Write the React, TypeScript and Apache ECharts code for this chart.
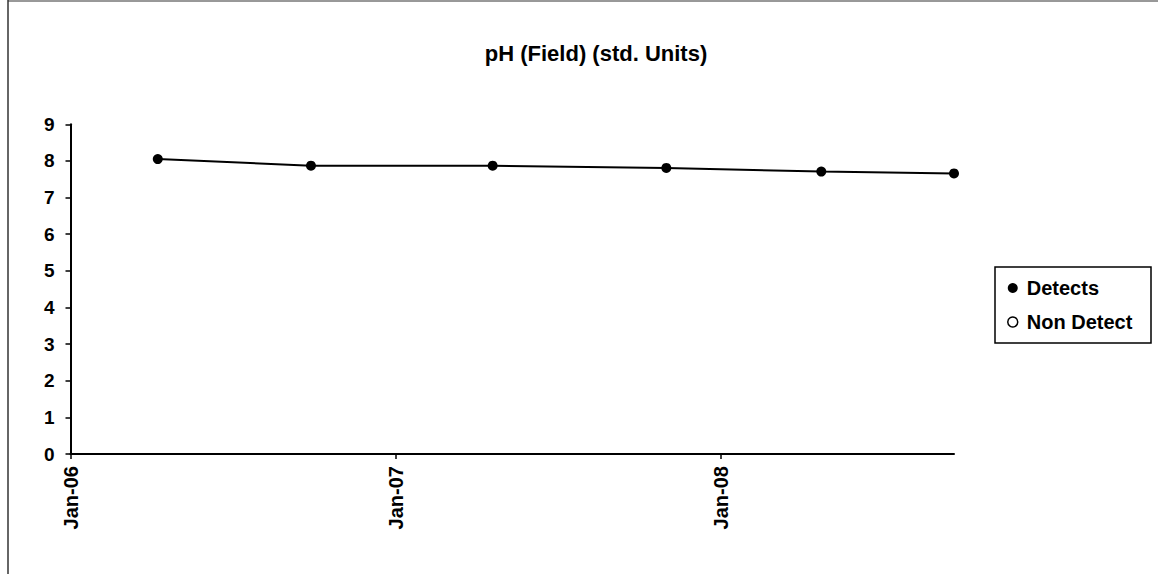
import React, { useEffect, useRef } from "react";
import * as echarts from "echarts";

const sampleDates = ["2006-04-09", "2006-09-28", "2007-04-20", "2007-11-01", "2008-04-23", "2008-09-19"];
const phValues = [8.05, 7.87, 7.87, 7.81, 7.71, 7.66];
const axisStart = "2006-01-01";
const axisEnd = "2008-09-19";
const monthNames = ["Jan", "Feb", "Mar", "Apr", "May", "Jun", "Jul", "Aug", "Sep", "Oct", "Nov", "Dec"];

const toUtc = (s: string) => {
  const [y, m, d] = s.split("-").map(Number);
  return Date.UTC(y, m - 1, d);
};
const DAY = 86400000;
const dayOffset = (s: string) => Math.round((toUtc(s) - toUtc(axisStart)) / DAY);

const FONT = "'Liberation Sans', Arial, sans-serif";

export default function App() {
  const ref = useRef<HTMLDivElement>(null);
  useEffect(() => {
    if (!ref.current) return;
    const chart = echarts.init(ref.current, null, { renderer: "svg" });
    const detects = sampleDates.map((d, i) => [dayOffset(d), phValues[i]]);
    chart.setOption({
      animation: false,
      backgroundColor: "#fff",
      textStyle: { fontFamily: FONT },
      title: {
        text: "pH (Field) (std. Units)",
        left: 591,
        top: 37,
        textAlign: "center",
        textStyle: { fontFamily: FONT, fontWeight: "bold", fontSize: 22, color: "#000" },
      },
      grid: { left: 70.5, right: 204, top: 124.3, bottom: 120, containLabel: false },
      xAxis: {
        type: "value",
        min: 0,
        max: dayOffset(axisEnd),
        interval: 365,
        splitLine: { show: false },
        axisLine: { lineStyle: { color: "#000", width: 2 } },
        axisTick: { show: true, length: 5, lineStyle: { color: "#000", width: 1.5 } },
        axisLabel: {
          rotate: 90,
          margin: 12,
          showMaxLabel: false,
          color: "#000",
          fontFamily: FONT,
          fontWeight: "bold",
          fontSize: 20,
          formatter: (v: number) => {
            const d = new Date(toUtc(axisStart) + v * DAY);
            return monthNames[d.getUTCMonth()] + "-" + String(d.getUTCFullYear()).slice(2);
          },
        },
      },
      yAxis: {
        type: "value",
        min: 0,
        max: 9,
        interval: 1,
        splitLine: { show: false },
        axisLine: { show: true, lineStyle: { color: "#000", width: 2 } },
        axisTick: { show: true, length: 5, lineStyle: { color: "#000", width: 1.5 } },
        axisLabel: {
          margin: 16,
          color: "#000",
          fontFamily: FONT,
          fontWeight: "bold",
          fontSize: 19,
        },
      },
      legend: {
        orient: "vertical",
        left: 1002,
        top: 273,
        itemGap: 14,
        itemWidth: 10,
        itemHeight: 10,
        textStyle: { fontFamily: FONT, fontWeight: "bold", fontSize: 20, color: "#000", padding: [0, 0, 0, 4] },
        data: [
          { name: "Detects", icon: "circle", itemStyle: { color: "#000", borderWidth: 0 } },
          { name: "Non Detect", icon: "circle", itemStyle: { color: "#fff", borderColor: "#000", borderWidth: 1.5 } },
        ],
      },
      graphic: [
        { type: "line", shape: { x1: 8, y1: 1, x2: 1158, y2: 1 }, style: { stroke: "#333", lineWidth: 1 } },
        { type: "line", shape: { x1: 8, y1: 0, x2: 8, y2: 574 }, style: { stroke: "#333", lineWidth: 1.5 } },
        {
          type: "rect",
          shape: { x: 995, y: 267, width: 156, height: 76 },
          style: { fill: "none", stroke: "#000", lineWidth: 1.5 },
          z: -1,
        },
      ],
      series: [
        {
          name: "Detects",
          type: "line",
          data: detects,
          symbol: "circle",
          symbolSize: 10,
          itemStyle: { color: "#000" },
          lineStyle: { color: "#000", width: 2 },
        },
        {
          name: "Non Detect",
          type: "line",
          data: [],
          symbol: "circle",
          symbolSize: 10,
          itemStyle: { color: "#fff", borderColor: "#000", borderWidth: 1.5 },
          lineStyle: { color: "#000", width: 0 },
        },
      ],
    });
    return () => chart.dispose();
  }, []);
  return <div ref={ref} style={{ position: "absolute", left: 0, top: 0, width: 1158, height: 574 }} />;
}
